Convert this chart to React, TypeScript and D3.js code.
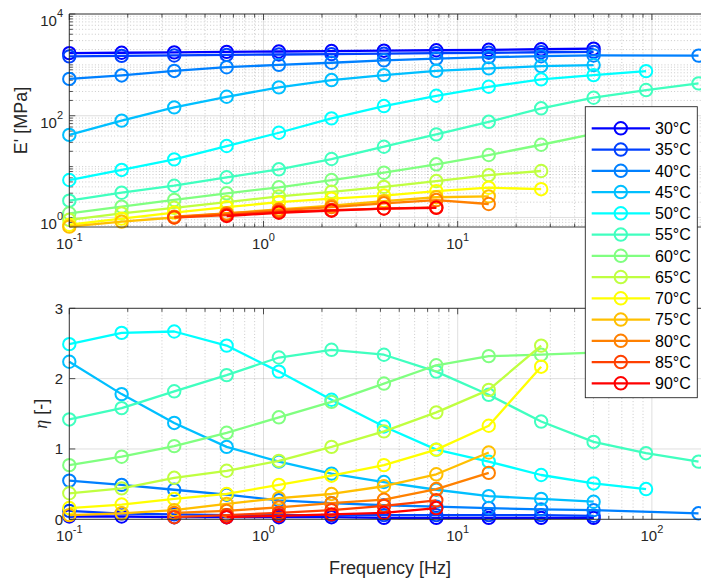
import React from 'react';
import * as d3 from 'd3';

// Measurement frequencies [Hz] (sweep points)
const FREQ_HZ = [0.1, 0.186, 0.347, 0.646, 1.2, 2.24, 4.17, 7.76, 14.45, 26.9, 50.1, 93.3, 173.8];

const TEMPS = ['30°C', '35°C', '40°C', '45°C', '50°C', '55°C', '60°C', '65°C', '70°C', '75°C', '80°C', '85°C', '90°C'];

// jet(13)
const COLORS = ['#0000ff', '#0040ff', '#0080ff', '#00bfff', '#00ffff', '#40ffbf', '#80ff80', '#bfff40', '#ffff00', '#ffbf00', '#ff8000', '#ff4000', '#ff0000'];

// Storage modulus E' [MPa], one slot per frequency (null = not measured)
const E_30 = [1700, 1730, 1760, 1800, 1830, 1870, 1900, 1940, 1980, 2030, 2080];
const E_35 = [1470, 1500, 1530, 1570, 1600, 1630, 1660, 1700, 1730, 1770, 1800];
const E_40 = [530, 620, 760, 900, 1000, 1100, 1230, 1330, 1420, 1480, 1530, null, 1520];
const E_45 = [42, 80, 146, 236, 361, 503, 630, 765, 853, 947, 991];
const E_50 = [5.45, 8.6, 13.9, 25.4, 46.3, 88.9, 155, 247, 371, 519, 630, 755];
const E_55 = [2.14, 3.07, 4.21, 6.17, 8.85, 14.1, 24.6, 43, 76, 140, 226, 320, 433];
const E_60 = [1.21, 1.63, 2.21, 2.99, 3.92, 5.45, 7.59, 11.1, 16.9, 26.9, 44];
const E_65 = [0.9, 1.2, 1.55, 2.0, 2.6, 3.2, 4.0, 5.2, 6.8, 8.2];
const E_70 = [0.72, 0.95, 1.25, 1.6, 2.0, 2.35, 2.7, 3.3, 3.85, 3.6];
const E_75 = [0.66, 0.83, 1.0, 1.2, 1.45, 1.7, 2.1, 2.5, 2.6];
const E_80 = [null, null, 1.04, 1.2, 1.4, 1.6, 1.9, 2.2, 1.84];
const E_85 = [null, null, 1.0, 1.12, 1.3, 1.4, 1.5, 1.58];
const E_90 = [null, null, null, 1.07, 1.24, 1.36, 1.5, 1.55];

// Loss factor eta [-]
const ETA_30 = [0.04, 0.04, 0.03, 0.03, 0.03, 0.03, 0.02, 0.02, 0.02, 0.02, 0.02];
const ETA_35 = [0.12, 0.08, 0.07, 0.06, 0.06, 0.06, 0.06, 0.06, 0.06, 0.06, 0.05];
const ETA_40 = [0.55, 0.49, 0.42, 0.35, 0.27, 0.23, 0.2, 0.18, 0.16, 0.14, 0.13, null, 0.085];
const ETA_45 = [2.24, 1.78, 1.37, 1.03, 0.82, 0.65, 0.53, 0.42, 0.33, 0.29, 0.25];
const ETA_50 = [2.49, 2.65, 2.67, 2.47, 2.1, 1.7, 1.32, 0.99, 0.82, 0.63, 0.51, 0.43];
const ETA_55 = [1.42, 1.58, 1.82, 2.05, 2.3, 2.41, 2.34, 2.1, 1.77, 1.39, 1.1, 0.94, 0.82];
const ETA_60 = [0.77, 0.89, 1.04, 1.23, 1.45, 1.67, 1.93, 2.19, 2.32, 2.34, 2.37];
const ETA_65 = [0.37, 0.44, 0.59, 0.69, 0.83, 1.03, 1.25, 1.52, 1.84, 2.47];
const ETA_70 = [0.16, 0.21, 0.29, 0.36, 0.49, 0.62, 0.77, 0.99, 1.33, 2.17];
const ETA_75 = [0.06, 0.085, 0.13, 0.22, 0.3, 0.36, 0.47, 0.64, 0.95];
const ETA_80 = [null, null, 0.09, 0.12, 0.17, 0.23, 0.28, 0.43, 0.66];
const ETA_85 = [null, null, 0.03, 0.06, 0.09, 0.13, 0.19, 0.27];
const ETA_90 = [null, null, null, 0.03, 0.05, 0.07, 0.09, 0.16];

const E_SERIES = [E_30, E_35, E_40, E_45, E_50, E_55, E_60, E_65, E_70, E_75, E_80, E_85, E_90];
const ETA_SERIES = [ETA_30, ETA_35, ETA_40, ETA_45, ETA_50, ETA_55, ETA_60, ETA_65, ETA_70, ETA_75, ETA_80, ETA_85, ETA_90];

const X_TICKS = [0.1, 1, 10, 100];
const X_TICK_EXP = ['-1', '0', '1', '2'];
const E_TICKS = [1, 100, 10000];
const E_TICK_EXP = ['0', '2', '4'];
const ETA_TICKS = [0, 1, 2, 3];

const W = 701;
const H = 584;
const AX = '#262626';
const FONT = '"Liberation Sans", Arial, Helvetica, sans-serif';
const MARK_R = 6.2;
const MARK_SW = 2;
const LINE_W = 2.3;

const X0 = 69.3;
const DECADE = 194.2;
const x = d3.scaleLog().domain([0.1, 200]).range([X0, X0 + DECADE * Math.log10(2000)]);
const yE = d3.scaleLog().domain([0.65, 10000]).range([227, 14]);
const yEta = d3.scaleLinear().domain([0, 3]).range([519.3, 308.3]);

function toPoints(vals: (number | null)[]): [number, number][] {
  const pts: [number, number][] = [];
  vals.forEach((v, i) => {
    if (v != null) pts.push([FREQ_HZ[i], v]);
  });
  return pts;
}

function minorLog(lo: number, hi: number, majors: number[]): number[] {
  const out: number[] = [];
  for (let e = -2; e <= 5; e++) {
    for (let m = 1; m <= 9; m++) {
      const v = m * Math.pow(10, e);
      if (v >= lo * 0.999 && v <= hi * 1.001 && !majors.some((t) => Math.abs(t - v) / v < 1e-6)) out.push(v);
    }
  }
  return out;
}

const X_MINOR = minorLog(0.1, 200, X_TICKS);
const E_MINOR = minorLog(0.65, 10000, E_TICKS);

function Panel({ y, top, bottom, yMinor, yMajor, series, xLabels }: any) {
  const xr = x.range()[1];
  const line = d3
    .line<[number, number]>()
    .x((d) => x(d[0]))
    .y((d) => y(d[1]));
  return (
    <g>
      {/* minor grid */}
      {X_MINOR.map((v, i) => (
        <line key={'xm' + i} x1={x(v)} x2={x(v)} y1={top} y2={bottom} stroke={AX} strokeOpacity={0.3} strokeWidth={0.8} strokeDasharray="1 2.2" />
      ))}
      {yMinor.map((v: number, i: number) => (
        <line key={'ym' + i} x1={X0} x2={xr} y1={y(v)} y2={y(v)} stroke={AX} strokeOpacity={0.3} strokeWidth={0.8} strokeDasharray="1 2.2" />
      ))}
      {/* major grid */}
      {X_TICKS.map((v, i) => (
        <line key={'xg' + i} x1={x(v)} x2={x(v)} y1={top} y2={bottom} stroke={AX} strokeOpacity={0.15} strokeWidth={1} />
      ))}
      {yMajor.map((v: number, i: number) => (
        <line key={'yg' + i} x1={X0} x2={xr} y1={y(v)} y2={y(v)} stroke={AX} strokeOpacity={0.15} strokeWidth={1} />
      ))}
      {/* ticks */}
      {X_TICKS.map((v, i) => (
        <g key={'xt' + i}>
          <line x1={x(v)} x2={x(v)} y1={bottom} y2={bottom - 6} stroke={AX} strokeWidth={0.8} />
          <line x1={x(v)} x2={x(v)} y1={top} y2={top + 6} stroke={AX} strokeWidth={0.8} />
        </g>
      ))}
      {X_MINOR.map((v, i) => (
        <g key={'xmt' + i}>
          <line x1={x(v)} x2={x(v)} y1={bottom} y2={bottom - 3.5} stroke={AX} strokeWidth={0.8} />
          <line x1={x(v)} x2={x(v)} y1={top} y2={top + 3.5} stroke={AX} strokeWidth={0.8} />
        </g>
      ))}
      {yMajor.map((v: number, i: number) => (
        <line key={'yt' + i} x1={X0} x2={X0 + 6} y1={y(v)} y2={y(v)} stroke={AX} strokeWidth={0.8} />
      ))}
      {yMinor.map((v: number, i: number) => (
        <line key={'ymt' + i} x1={X0} x2={X0 + 3.5} y1={y(v)} y2={y(v)} stroke={AX} strokeWidth={0.8} />
      ))}
      {/* data */}
      {series.map((vals: (number | null)[], i: number) => {
        const pts = toPoints(vals);
        return (
          <g key={'s' + i}>
            <path d={line(pts) || ''} fill="none" stroke={COLORS[i]} strokeWidth={LINE_W} strokeLinejoin="round" />
            {pts.map((p, j) => (
              <circle key={j} cx={x(p[0])} cy={y(p[1])} r={MARK_R} fill="none" stroke={COLORS[i]} strokeWidth={MARK_SW} />
            ))}
          </g>
        );
      })}
      {/* box */}
      <line x1={X0} x2={X0} y1={top} y2={bottom} stroke={AX} strokeWidth={0.9} />
      <line x1={X0} x2={xr} y1={bottom} y2={bottom} stroke={AX} strokeWidth={0.9} />
      <line x1={X0} x2={xr} y1={top} y2={top} stroke={AX} strokeWidth={0.9} />
      {/* x tick labels */}
      {xLabels.map((v: number) => {
        const i = X_TICKS.indexOf(v);
        return (
          <text key={'xl' + i} x={x(v)} y={bottom + 21.5} textAnchor="middle" fontSize={15} fill={AX} fontFamily={FONT}>
            10<tspan dy={-8} fontSize={11}>{X_TICK_EXP[i]}</tspan>
          </text>
        );
      })}
    </g>
  );
}

export default function App() {
  const topT = 14, topB = 227;
  const botT = 308.3, botB = 519.3;
  const legX = 585.3, legY = 106.7, legW = 112, legH = 291;
  return (
    <svg width={W} height={H} style={{ position: 'absolute', left: 0, top: 0, background: '#fff' }} fontFamily={FONT}>
      <rect x={0} y={0} width={W} height={H} fill="#fff" />
      {/* the 10^2 label of the upper panel sits under the legend box */}
      <Panel y={yE} top={topT} bottom={topB} yMinor={E_MINOR} yMajor={E_TICKS} series={E_SERIES} xLabels={[0.1, 1, 10]} />
      <Panel y={yEta} top={botT} bottom={botB} yMinor={[]} yMajor={ETA_TICKS} series={ETA_SERIES} xLabels={X_TICKS} />
      {/* y tick labels, top */}
      {E_TICKS.map((v, i) => (
        <text key={'el' + i} x={63} y={yE(v) + 12} textAnchor="end" fontSize={15} fill={AX}>
          10<tspan dy={-9} fontSize={11}>{E_TICK_EXP[i]}</tspan>
        </text>
      ))}
      {ETA_TICKS.map((v, i) => (
        <text key={'tl' + i} x={63} y={yEta(v) + 5.5} textAnchor="end" fontSize={15} fill={AX}>
          {v}
        </text>
      ))}
      {/* axis labels */}
      <text transform={`translate(27,${(topT + topB) / 2}) rotate(-90)`} textAnchor="middle" fontSize={18} fill={AX}>
        E' [MPa]
      </text>
      <text transform={`translate(47,${(botT + botB) / 2}) rotate(-90)`} textAnchor="middle" fontSize={18} fill={AX}>
        <tspan fontFamily='"Liberation Serif", "Times New Roman", serif' fontStyle="italic">η</tspan> [-]
      </text>
      <text x={390} y={574} textAnchor="middle" fontSize={18} fill={AX}>
        Frequency [Hz]
      </text>
      {/* legend */}
      <g>
        <rect x={legX} y={legY} width={legW} height={legH} fill="#fff" stroke={AX} strokeWidth={0.9} />
        {TEMPS.map((t, i) => {
          const cy = 128.3 + 21.25 * i;
          return (
            <g key={'lg' + i}>
              <line x1={591.7} x2={650} y1={cy} y2={cy} stroke={COLORS[i]} strokeWidth={LINE_W} />
              <circle cx={620.8} cy={cy} r={MARK_R} fill="none" stroke={COLORS[i]} strokeWidth={MARK_SW} />
              <text x={655} y={cy + 5.8} fontSize={16} fill="#000">
                {t}
              </text>
            </g>
          );
        })}
      </g>
    </svg>
  );
}
